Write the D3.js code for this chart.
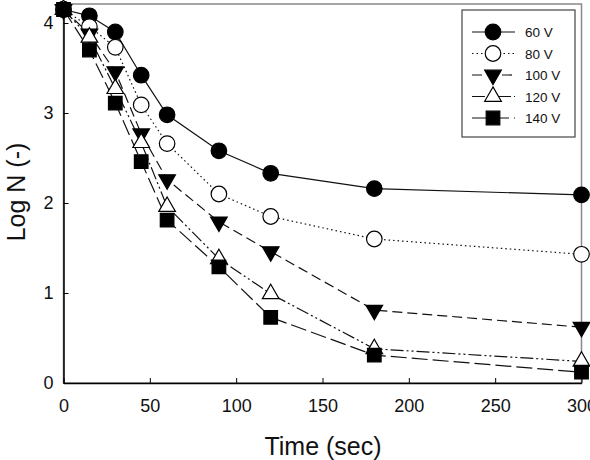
<!DOCTYPE html>
<html><head><meta charset="utf-8">
<script src="https://cdn.jsdelivr.net/npm/d3@7"></script>
<style>body{margin:0;background:#fff}svg{display:block;font-family:"Liberation Sans",Arial,sans-serif}</style>
</head><body><svg id="c" width="590" height="460"></svg>
<script>
const times = [0, 15, 30, 45, 60, 90, 120, 180, 300];
const seriesNames = ["60 V", "80 V", "100 V", "120 V", "140 V"];
const v60  = [4.15, 4.08, 3.90, 3.42, 2.98, 2.58, 2.33, 2.16, 2.09];
const v80  = [4.15, 3.96, 3.73, 3.09, 2.66, 2.10, 1.85, 1.60, 1.43];
const v100 = [4.15, 3.88, 3.46, 2.77, 2.26, 1.79, 1.46, 0.81, 0.62];
const v120 = [4.15, 3.84, 3.27, 2.67, 1.96, 1.38, 0.99, 0.38, 0.24];
const v140 = [4.15, 3.70, 3.11, 2.46, 1.81, 1.29, 0.73, 0.31, 0.12];
const xTicks = [0, 50, 100, 150, 200, 250, 300];
const yTicks = [0, 1, 2, 3, 4];

const series = [
  {name: seriesNames[0], vals: v60,  sym: d3.symbolCircle,   fill: "#000", dash: null, size: 190},
  {name: seriesNames[1], vals: v80,  sym: d3.symbolCircle,   fill: "#fff", dash: "1.5,3", size: 190},
  {name: seriesNames[2], vals: v100, sym: "down",            fill: "#000", dash: "10,5", size: 120},
  {name: seriesNames[3], vals: v120, sym: d3.symbolTriangle, fill: "#fff", dash: "13,3,2,3,2,3", size: 120},
  {name: seriesNames[4], vals: v140, sym: d3.symbolSquare,   fill: "#000", dash: "16,5", size: 185}
];

const svg = d3.select("#c");
const x = d3.scaleLinear().domain([0, 300]).range([63.5, 581.5]);
const y = d3.scaleLinear().domain([0, 4.2]).range([383, 5]);

svg.append("rect").attr("x", 63.5).attr("y", 4).attr("width", 518).attr("height", 379)
  .attr("fill", "none").attr("stroke", "#888").attr("stroke-width", 1.5);

const xAxis = svg.append("g").attr("transform", "translate(0,383)")
  .call(d3.axisBottom(x).tickValues(xTicks).tickSizeInner(-5).tickSizeOuter(0).tickPadding(16));
const yAxis = svg.append("g").attr("transform", "translate(63.5,0)")
  .call(d3.axisLeft(y).tickValues(yTicks).tickSizeInner(-5).tickSizeOuter(0).tickPadding(10).tickFormat(d3.format("d")));
[xAxis, yAxis].forEach(a => {
  a.select(".domain").attr("stroke", "#000").attr("stroke-width", 1.5);
  a.selectAll(".tick line").attr("stroke", "#000").attr("stroke-width", 1);
  a.selectAll(".tick text").attr("font-size", 18).attr("fill", "#111").attr("font-family", "Liberation Sans, Arial, sans-serif");
});

svg.append("text").attr("x", 323).attr("y", 455).attr("text-anchor", "middle")
  .attr("font-size", 25).attr("fill", "#111").text("Time (sec)");
svg.append("text").attr("transform", "translate(25,192) rotate(-90)").attr("text-anchor", "middle")
  .attr("font-size", 25).attr("fill", "#111").text("Log N (-)");

function symPath(s) {
  if (s.sym === "down") return d3.symbol().type(d3.symbolTriangle).size(s.size)();
  return d3.symbol().type(s.sym).size(s.size)();
}
const line = d3.line().x(d => x(d[0])).y(d => y(d[1]));

const plot = svg.append("g");
series.forEach(s => {
  const pts = times.map((t, i) => [t, s.vals[i]]);
  plot.append("path").attr("d", line(pts)).attr("fill", "none").attr("stroke", "#111")
    .attr("stroke-width", 1.2).attr("stroke-dasharray", s.dash);
});
series.forEach(s => {
  const pts = times.map((t, i) => [t, s.vals[i]]);
  plot.selectAll(null).data(pts).enter().append("path")
    .attr("d", symPath(s))
    .attr("transform", d => `translate(${x(d[0])},${y(d[1])})` + (s.sym === "down" ? " rotate(180)" : ""))
    .attr("fill", s.fill).attr("stroke", "#000").attr("stroke-width", 1.2);
});

const lg = svg.append("g");
lg.append("rect").attr("x", 462).attr("y", 10).attr("width", 113).attr("height", 127)
  .attr("fill", "#fff").attr("stroke", "#444").attr("stroke-width", 1.2);
const ly = d3.scalePoint().domain(seriesNames).range([32, 118]);
series.forEach(s => {
  const yy = ly(s.name);
  lg.append("line").attr("x1", 472).attr("x2", 515).attr("y1", yy).attr("y2", yy)
    .attr("stroke", "#111").attr("stroke-width", 1.2).attr("stroke-dasharray", s.dash);
  lg.append("path").attr("d", symPath(s))
    .attr("transform", `translate(493,${yy})` + (s.sym === "down" ? " rotate(180)" : ""))
    .attr("fill", s.fill).attr("stroke", "#000").attr("stroke-width", 1.2);
  lg.append("text").attr("x", 525).attr("y", yy + 5).attr("font-size", 13.5).attr("fill", "#111").text(s.name);
});
</script></body></html>
